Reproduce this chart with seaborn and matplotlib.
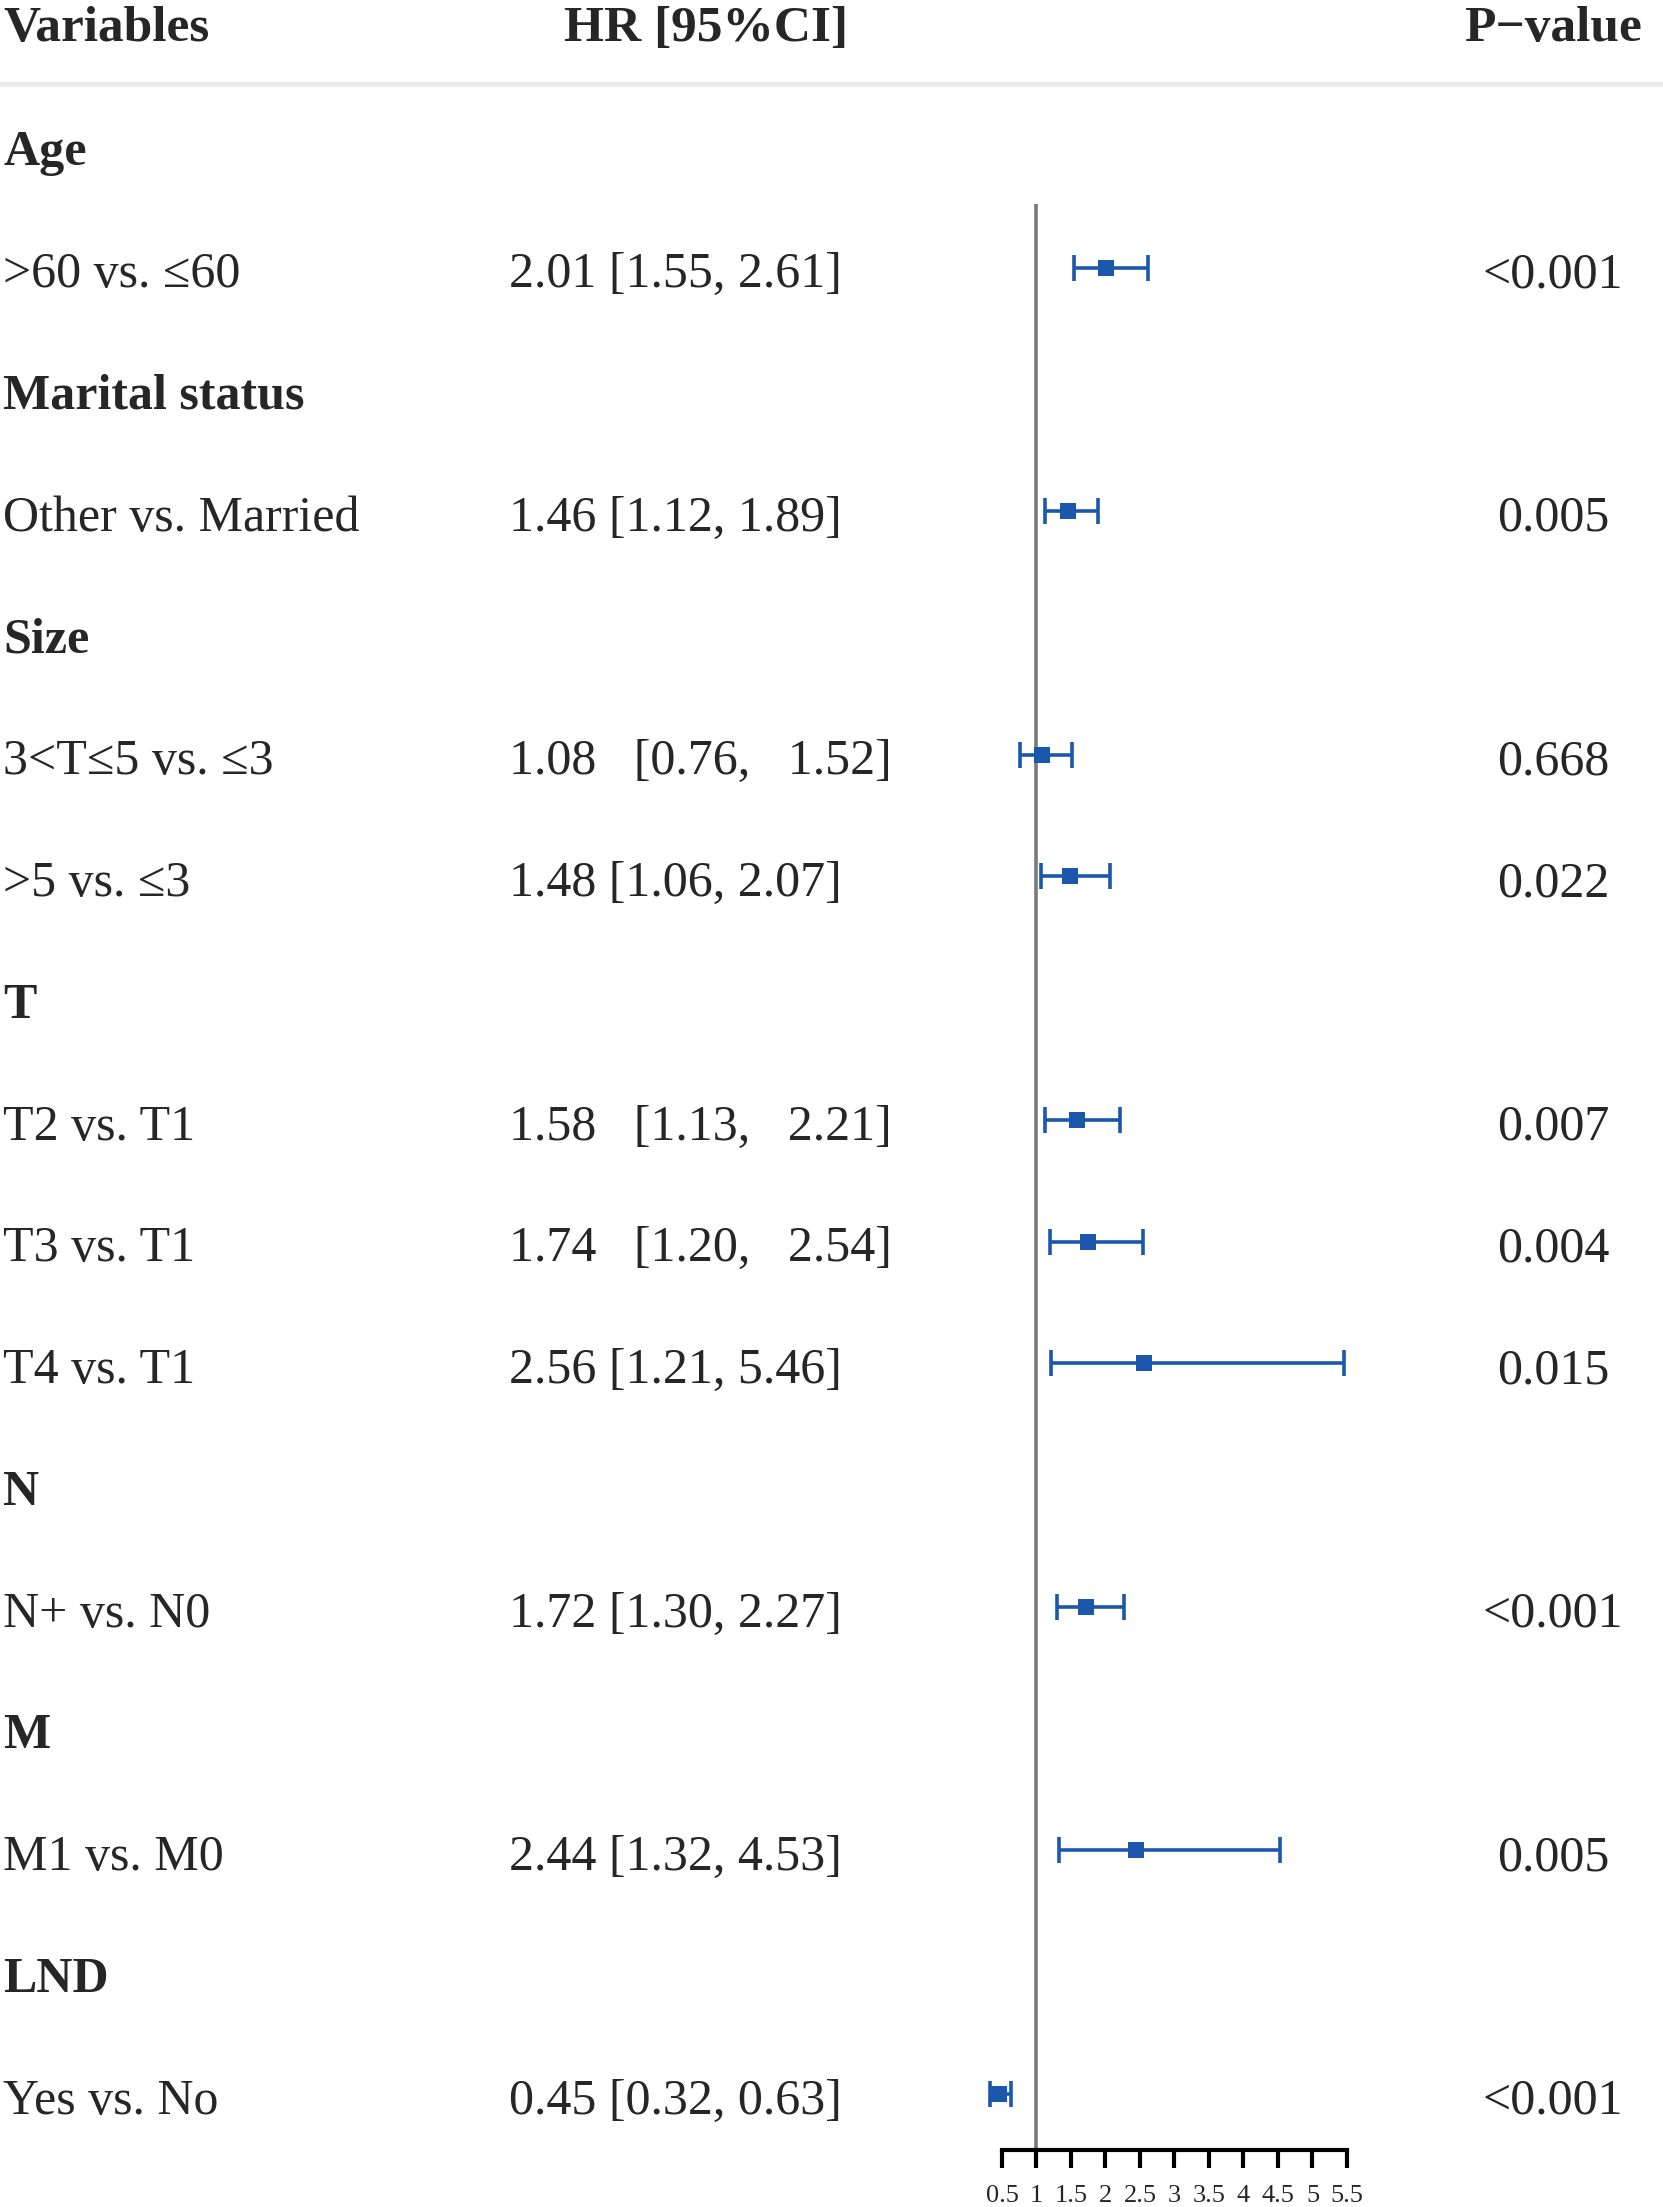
import numpy as np
import pandas as pd
import matplotlib
matplotlib.use("Agg")
import matplotlib.pyplot as plt
import seaborn as sns

# ---------------- data ----------------
labels = ["Age", ">60 vs. ≤60", "Marital status", "Other vs. Married", "Size",
          "3<T≤5 vs. ≤3", ">5 vs. ≤3", "T", "T2 vs. T1", "T3 vs. T1", "T4 vs. T1",
          "N", "N+ vs. N0", "M", "M1 vs. M0", "LND", "Yes vs. No"]
is_group = [True, False, True, False, True, False, False, True, False, False, False,
            True, False, True, False, True, False]
hr = [np.nan, 2.01, np.nan, 1.46, np.nan, 1.08, 1.48, np.nan, 1.58, 1.74, 2.56,
      np.nan, 1.72, np.nan, 2.44, np.nan, 0.45]
lo = [np.nan, 1.55, np.nan, 1.12, np.nan, 0.76, 1.06, np.nan, 1.13, 1.20, 1.21,
      np.nan, 1.30, np.nan, 1.32, np.nan, 0.32]
hi = [np.nan, 2.61, np.nan, 1.89, np.nan, 1.52, 2.07, np.nan, 2.21, 2.54, 5.46,
      np.nan, 2.27, np.nan, 4.53, np.nan, 0.63]
hr_text = ["", "2.01 [1.55, 2.61]", "", "1.46 [1.12, 1.89]", "",
           "1.08   [0.76,   1.52]", "1.48 [1.06, 2.07]", "",
           "1.58   [1.13,   2.21]", "1.74   [1.20,   2.54]", "2.56 [1.21, 5.46]", "",
           "1.72 [1.30, 2.27]", "", "2.44 [1.32, 4.53]", "", "0.45 [0.32, 0.63]"]
p_text = ["", "<0.001", "", "0.005", "", "0.668", "0.022", "", "0.007", "0.004",
          "0.015", "", "<0.001", "", "0.005", "", "<0.001"]
headers = ["Variables", "HR [95%CI]", "P\u2212value"]
xticks = [0.5, 1, 1.5, 2, 2.5, 3, 3.5, 4, 4.5, 5, 5.5]
xticklabels = ["0.5", "1", "1.5", "2", "2.5", "3", "3.5", "4", "4.5", "5", "5.5"]

df = pd.DataFrame({"row": np.arange(len(labels)), "hr": hr, "lo": lo, "hi": hi})
est = df.dropna()

# ---------------- style ----------------
sns.set_theme(style="white")
plt.rcParams["font.family"] = ["Liberation Serif", "DejaVu Serif", "DejaVu Sans"]

W, H, DPI = 1663, 2207, 100
fig = plt.figure(figsize=(W / DPI, H / DPI), dpi=DPI)
axis_px = 2150
ax = fig.add_axes([0, (H - axis_px) / H, 1, axis_px / H])

# pixel mapping: x value 0.5 -> px 1002, 69 px per unit
px0, ppu = 1002, 69.0
ax.set_xlim(0.5 - px0 / ppu, 0.5 + (W - px0) / ppu)
row0, rstep = 146, 121.75
ax.set_ylim((axis_px - row0) / rstep, (0 - row0) / rstep)

blue = "#1C57AE"
# reference line at HR = 1
ax.vlines(1, (204 - row0) / rstep, (axis_px - row0) / rstep, color="#7A7A7A", lw=2.6, zorder=1)

# CI whiskers with caps
ax.errorbar(est["hr"], est["row"], xerr=[est["hr"] - est["lo"], est["hi"] - est["hr"]],
            fmt="none", ecolor=blue, elinewidth=2.6, capsize=9.5, capthick=2.6, zorder=2)
# point estimates
sns.scatterplot(data=est, x="hr", y="row", marker="s", color=blue, edgecolor=blue,
                s=145, linewidth=0, ax=ax, legend=False, zorder=3)

# axis styling
for s in ["left", "top", "right"]:
    ax.spines[s].set_visible(False)
ax.spines["bottom"].set_bounds(0.5, 5.5)
ax.spines["bottom"].set_linewidth(3.0)
ax.spines["bottom"].set_color("black")
ax.spines["bottom"].set_capstyle("projecting")
ax.set_xticks(xticks)
ax.set_xticklabels(xticklabels, fontsize=19)
ax.set_yticks([])
ax.tick_params(axis="x", direction="out", length=13, width=3.0, color="black",
               pad=12, bottom=True)
ax.set_xlabel("")
ax.set_ylabel("")
ax.grid(False)

# separator under header
ax.axhline((84 - row0) / rstep, color="#EBEBEB", lw=3.5, zorder=0)

trans = ax.get_yaxis_transform()
fs = 36
dy = 0.06
hy = (29 - row0) / rstep
ax.text(3 / W, hy, headers[0], transform=trans, ha="left", va="center",
        fontsize=fs + 1, fontweight="bold")
ax.text(706 / W, hy, headers[1], transform=trans, ha="center", va="center",
        fontsize=fs + 1, fontweight="bold")
ax.text(1553 / W, hy, headers[2], transform=trans, ha="center", va="center",
        fontsize=fs + 1, fontweight="bold")

for i, lab in enumerate(labels):
    ax.text(3 / W, i + dy, lab, transform=trans, ha="left", va="center", fontsize=fs,
            fontweight="bold" if is_group[i] else "normal")
    if hr_text[i]:
        ax.text(509 / W, i + dy, hr_text[i], transform=trans, ha="left", va="center", fontsize=fs)
    if p_text[i]:
        ax.text(1553 / W, i + dy, p_text[i], transform=trans, ha="center", va="center", fontsize=fs)

fig.savefig("out.png", dpi=DPI, facecolor="white")
